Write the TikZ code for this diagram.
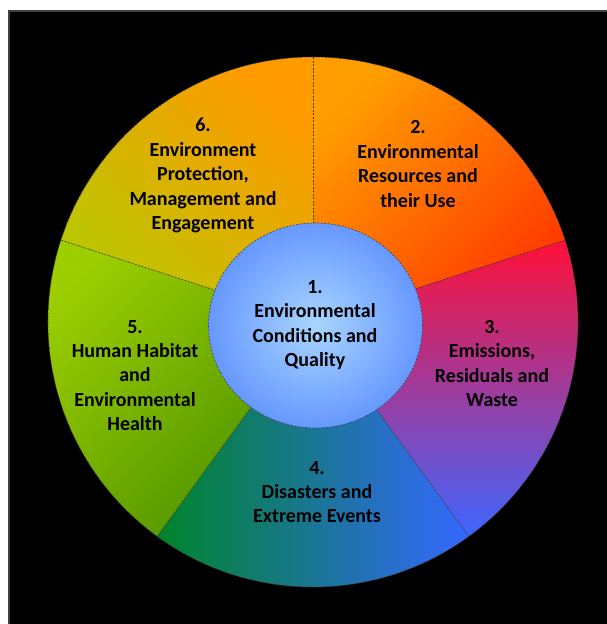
\documentclass[tikz,border=0pt]{standalone}
\usepackage{fontspec}
\setmainfont{Carlito}
\usepackage{tikz}

\definecolor{resA}{HTML}{FF9E00}
\definecolor{resB}{HTML}{FF3800}
\definecolor{emiA}{HTML}{FF1038}
\definecolor{emiB}{HTML}{D63A98}
\definecolor{emiC}{HTML}{3F66FF}
\definecolor{disA}{HTML}{00842A}
\definecolor{disB}{HTML}{237A92}
\definecolor{disC}{HTML}{3468FF}
\definecolor{habA}{HTML}{9CCE00}
\definecolor{habB}{HTML}{4C9200}
\definecolor{proA}{HTML}{FF9A00}
\definecolor{proB}{HTML}{B8C800}
\definecolor{conA}{HTML}{A9D5FF}
\definecolor{conB}{HTML}{6698FF}

\tikzset{
  segline/.style={draw=black!75, line width=0.6pt, dash pattern=on 2pt off 1.5pt},
  segtext/.style={align=center, text=black, font=\bfseries\fontsize{20}{24.4}\selectfont}
}

\begin{document}
\begin{tikzpicture}[x=1pt,y=1pt]
        \useasboundingbox (-313,-302) rectangle (293,322);
        \fill[white] (-313,-302) rectangle (293,322);
        \fill[black, draw=black!75, line width=1.5pt] (-304,-306) rectangle (297,311);

        % the five outer pieces
        \shade[top color=resA, bottom color=resB, shading angle=45]
            (0,0) -- (18:265) arc[start angle=18, end angle=90, radius=265] -- cycle;
        \shade[top color=emiA, middle color=emiB, bottom color=emiC]
            (0,0) -- (-54:265) arc[start angle=-54, end angle=18, radius=265] -- cycle;
        \shade[left color=disA, middle color=disB, right color=disC]
            (0,0) -- (-126:265) arc[start angle=-126, end angle=-54, radius=265] -- cycle;
        \shade[top color=habA, bottom color=habB, shading angle=45]
            (0,0) -- (162:265) arc[start angle=162, end angle=234, radius=265] -- cycle;
        \shade[top color=proA, bottom color=proB, shading angle=-45]
            (0,0) -- (90:265) arc[start angle=90, end angle=162, radius=265] -- cycle;

        % dashed edges
        \draw[segline] (0,0) circle[radius=265];
        \draw[segline] (0,0) -- (18:265);
        \draw[segline] (0,0) -- (90:265);
        \draw[segline] (0,0) -- (162:265);
        \draw[segline] (0,0) -- (234:265);
        \draw[segline] (0,0) -- (306:265);

        % middle
        \shade[inner color=conA, outer color=conB] (2.5,-3.5) ellipse[x radius=107, y radius=102.5];
        \draw[segline] (2.5,-3.5) ellipse[x radius=107, y radius=102.5];

        \node[segtext] (conditions) at (2,-3) {1.\\Environmental\\Conditions and\\Quality};
        \node[segtext] (resources) at (105,158) {2.\\Environmental\\Resources and\\their Use};
        \node[segtext] (emissions) at (179,-41.5) {3.\\Emissions,\\Residuals and\\Waste};
        \node[segtext] (disasters) at (4,-170) {4.\\Disasters and\\Extreme Events};
        \node[segtext] (habitat) at (-178,-53.5) {5.\\Human Habitat\\and\\Environmental\\Health};
        \node[segtext] (protection) at (-110,146.5) {6.\\Environment\\Protection,\\Management and\\Engagement};
    \end{tikzpicture}
\end{document}
